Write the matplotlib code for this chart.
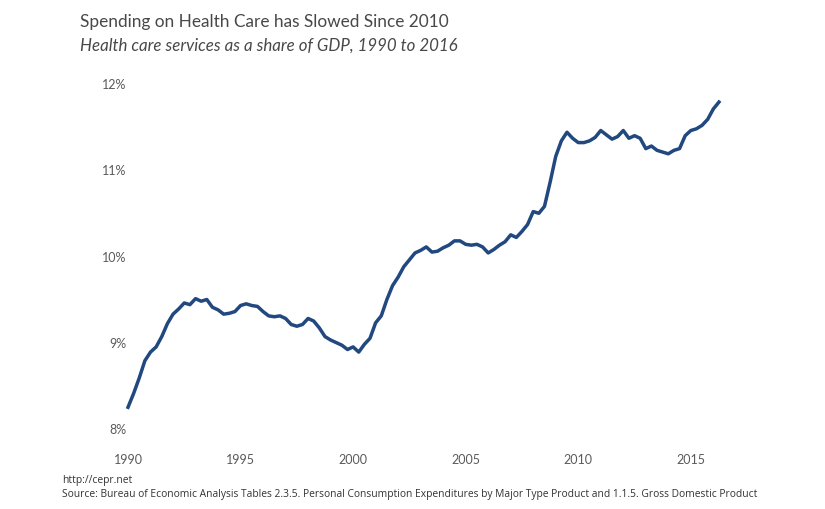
import numpy as np
import matplotlib.pyplot as plt

# quarterly, 1990Q1 .. 2016Q2
start_year = 1990
share = [
    8.24, 8.40, 8.58, 8.78, 8.88, 8.94, 9.06, 9.21, 9.32, 9.38,
    9.45, 9.43, 9.50, 9.47, 9.49, 9.40, 9.37, 9.32, 9.33, 9.35,
    9.42, 9.44, 9.42, 9.41, 9.35, 9.30, 9.29, 9.30, 9.27, 9.20,
    9.18, 9.20, 9.27, 9.24, 9.16, 9.06, 9.02, 8.99, 8.96, 8.91,
    8.94, 8.88, 8.97, 9.04, 9.22, 9.30, 9.49, 9.65, 9.75, 9.87,
    9.95, 10.03, 10.06, 10.10, 10.04, 10.05, 10.09, 10.12, 10.17, 10.17,
    10.13, 10.12, 10.13, 10.10, 10.03, 10.07, 10.12, 10.16, 10.24, 10.21,
    10.28, 10.36, 10.51, 10.49, 10.57, 10.85, 11.15, 11.33, 11.43, 11.36,
    11.31, 11.31, 11.33, 11.37, 11.45, 11.40, 11.35, 11.38, 11.45, 11.36,
    11.39, 11.36, 11.24, 11.27, 11.22, 11.20, 11.18, 11.22, 11.24, 11.39,
    11.45, 11.47, 11.51, 11.58, 11.70, 11.78,
]
years = start_year + np.arange(len(share)) / 4.0

xticks = [1990, 1995, 2000, 2005, 2010, 2015]
yticks = [8, 9, 10, 11, 12]
ytick_labels = ["8%", "9%", "10%", "11%", "12%"]

title = "Spending on Health Care has Slowed Since 2010"
subtitle = "Health care services as a share of GDP, 1990 to 2016"
site = "http://cepr.net"
source = ("Source: Bureau of Economic Analysis Tables 2.3.5. Personal Consumption "
          "Expenditures by Major Type Product and 1.1.5. Gross Domestic Product")

plt.rcParams['font.family'] = ['Lato', 'DejaVu Sans']

fig = plt.figure(figsize=(8.25, 5.1), dpi=100)
ax = fig.add_axes([0.1415, 0.142, 0.7395, 0.71])

ax.plot(years, share, color='#21487f', linewidth=2.5, solid_joinstyle='round')

ax.set_xlim(1989.5, 2016.6)
ax.set_ylim(7.9, 12.1)
ax.set_xticks(xticks)
ax.set_xticklabels([str(x) for x in xticks])
ax.set_yticks(yticks)
ax.set_yticklabels(ytick_labels)
ax.tick_params(axis='both', length=0, labelsize=9, labelcolor='#5a5a5a')
ax.tick_params(axis='y', pad=-7)
ax.tick_params(axis='x', pad=12)
for s in ax.spines.values():
    s.set_visible(False)

fig.text(80 / 825, 1 - 22 / 510, title, fontsize=12.4, color='#484848', va='center')
fig.text(80 / 825, 1 - 46 / 510, subtitle, fontsize=12.2, color='#484848',
         style='italic', va='center')
fig.text(62 / 825, 1 - 481 / 510, site, fontsize=7.35, color='#333333', va='center',
         family=['Liberation Sans Narrow', 'Open Sans', 'DejaVu Sans'])
fig.text(62 / 825, 1 - 495 / 510, source, fontsize=7.35, color='#333333', va='center',
         family=['Liberation Sans Narrow', 'Open Sans', 'DejaVu Sans'])

fig.savefig("out.png", dpi=100)
